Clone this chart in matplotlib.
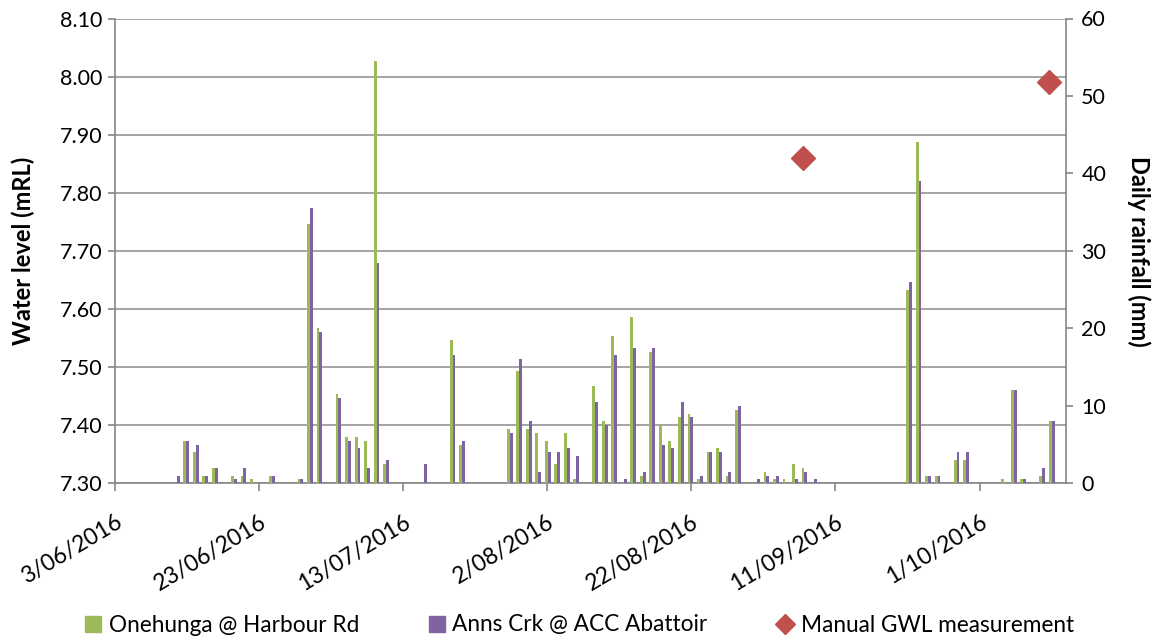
import matplotlib
matplotlib.use("Agg")
import matplotlib.pyplot as plt
from matplotlib.lines import Line2D
import numpy as np
from datetime import datetime, timedelta

# ---------------- data ----------------
# daily rainfall (mm), 100 consecutive days plotted on a category axis
onehunga = [
    0, 0, 0, 0, 0, 0, 0, 5.5, 4.0, 1.0,
    2.0, 0, 1.0, 1.0, 0.5, 0, 1.0, 0, 0, 0.5,
    33.5, 20.0, 0, 11.5, 6.0, 6.0, 5.5, 54.5, 2.5, 0,
    0, 0, 0, 0, 0, 18.5, 5.0, 0, 0, 0,
    0, 7.0, 14.5, 7.0, 6.5, 5.5, 2.5, 6.5, 0.5, 0,
    12.5, 8.0, 19.0, 0, 21.5, 1.0, 17.0, 7.5, 5.5, 8.5,
    9.0, 0.5, 4.0, 4.5, 1.0, 9.5, 0, 0, 1.5, 0.5,
    0.5, 2.5, 2.0, 0, 0, 0, 0, 0, 0, 0,
    0, 0, 0, 25.0, 44.0, 1.0, 1.0, 0, 3.0, 3.0,
    0, 0, 0, 0.5, 12.0, 0.5, 0, 1.0, 8.0, 0,
]
anns_crk = [
    0, 0, 0, 0, 0, 0, 1.0, 5.5, 5.0, 1.0,
    2.0, 0, 0.5, 2.0, 0, 0, 1.0, 0, 0, 0.5,
    35.5, 19.5, 0, 11.0, 5.5, 4.5, 2.0, 28.5, 3.0, 0,
    0, 0, 2.5, 0, 0, 16.5, 5.5, 0, 0, 0,
    0, 6.5, 16.0, 8.0, 1.5, 4.0, 4.0, 4.5, 3.5, 0,
    10.5, 7.5, 16.5, 0.5, 17.5, 1.5, 17.5, 5.0, 4.5, 10.5,
    8.5, 1.0, 4.0, 4.0, 1.5, 10.0, 0, 0.5, 1.0, 1.0,
    0, 0.5, 1.5, 0.5, 0, 0, 0, 0, 0, 0,
    0, 0, 0, 26.0, 39.0, 1.0, 1.0, 0, 4.0, 4.0,
    0, 0, 0, 0, 12.0, 0.5, 0, 2.0, 8.0, 0,
]

# manual groundwater level measurements
gwl_dates = ["2016-09-06 10:30", "2016-10-10 14:00"]
gwl_values = [7.86, 7.99]

x_start = "2016-06-03"
x_end = "2016-10-13"
tick_labels = ["3/06/2016", "23/06/2016", "13/07/2016", "2/08/2016",
               "22/08/2016", "11/09/2016", "1/10/2016"]

series_names = ["Onehunga @ Harbour Rd", "Anns Crk @ ACC Abattoir",
                "Manual GWL measurement"]

# ---------------- style ----------------
GREEN = "#9BBB59"
PURPLE = "#8064A2"
RED = "#C0504D"
GRID = "#8C8C8C"
AXC = "#868686"
plt.rcParams["font.family"] = ["Lato", "DejaVu Sans"]

W, H = 1158, 640
fig = plt.figure(figsize=(W / 100, H / 100), dpi=100)
left, right, top, bottom = 115, 1066, 18.5, 483.3
rect = [left / W, 1 - bottom / H, (right - left) / W, (bottom - top) / H]

# main axes: date x, water level y
ax = fig.add_axes(rect, zorder=1)
d0 = datetime.strptime(x_start, "%Y-%m-%d")
d1 = datetime.strptime(x_end, "%Y-%m-%d")
ax.set_xlim(d0, d1)
ticks = [d0 + timedelta(days=20 * k) for k in range(len(tick_labels))]
ax.set_xticks(ticks)
ax.set_xticklabels(tick_labels, rotation=31, ha="right",
                   rotation_mode="anchor", fontsize=16.5, color="#000000")
ax.set_ylim(7.30, 8.10)
ax.set_yticks(np.round(np.arange(7.30, 8.1001, 0.10), 2))
ax.yaxis.set_major_formatter(matplotlib.ticker.FormatStrFormatter("%.2f"))
ax.tick_params(axis="y", labelsize=15.5, direction="out", length=5,
               color=AXC, width=1.2, pad=4)
ax.tick_params(axis="x", direction="out", length=6, color=AXC, width=1.2,
               pad=14)
ax.yaxis.grid(True, color=GRID, linewidth=1.1)
ax.set_axisbelow(True)
for s in ["top", "right"]:
    ax.spines[s].set_visible(False)
for s in ["left", "bottom"]:
    ax.spines[s].set_color(AXC)
    ax.spines[s].set_linewidth(1.2)

gd = [datetime.strptime(d, "%Y-%m-%d %H:%M") for d in gwl_dates]
ax.plot(gd, gwl_values, linestyle="none", marker="D", markersize=12.5,
        color=RED, zorder=5, clip_on=False)

# rainfall axes: category x, rainfall y on right
axb = fig.add_axes(rect, zorder=2)
axb.patch.set_visible(False)
n = len(onehunga)
idx = np.arange(n)
bw = 0.3
axb.bar(idx + 0.5 - bw / 2, onehunga, width=bw, color=GREEN, linewidth=0)
axb.bar(idx + 0.5 + bw / 2, anns_crk, width=bw, color=PURPLE, linewidth=0)
axb.set_xlim(0, n)
axb.set_ylim(0, 60)
axb.set_yticks(np.arange(0, 61, 10))
axb.xaxis.set_visible(False)
axb.yaxis.tick_right()
axb.tick_params(axis="y", labelsize=15.5, direction="out", length=5,
                color=AXC, width=1.2, pad=6)
for s in ["top", "left", "bottom"]:
    axb.spines[s].set_visible(False)
axb.spines["right"].set_color(AXC)
axb.spines["right"].set_linewidth(1.2)

# axis titles
fig.text(23 / W, 1 - 251 / H, "Water level (mRL)", rotation=90,
         ha="center", va="center", fontsize=17, fontweight="bold")
fig.text(1139 / W, 1 - 251 / H, "Daily rainfall (mm)", rotation=270,
         ha="center", va="center", fontsize=17, fontweight="bold")

# legend
handles = [
    Line2D([], [], linestyle="none", marker="s", markersize=11,
           color=GREEN),
    Line2D([], [], linestyle="none", marker="s", markersize=11,
           color=PURPLE),
    Line2D([], [], linestyle="none", marker="D", markersize=10, color=RED),
]
fig.legend(handles, series_names, loc="center", ncol=3, frameon=False,
           bbox_to_anchor=(0.5, 1 - 625 / H), fontsize=16.3,
           handlelength=0.8, handletextpad=0.3, columnspacing=3.0)

fig.savefig("out.png", dpi=100)
